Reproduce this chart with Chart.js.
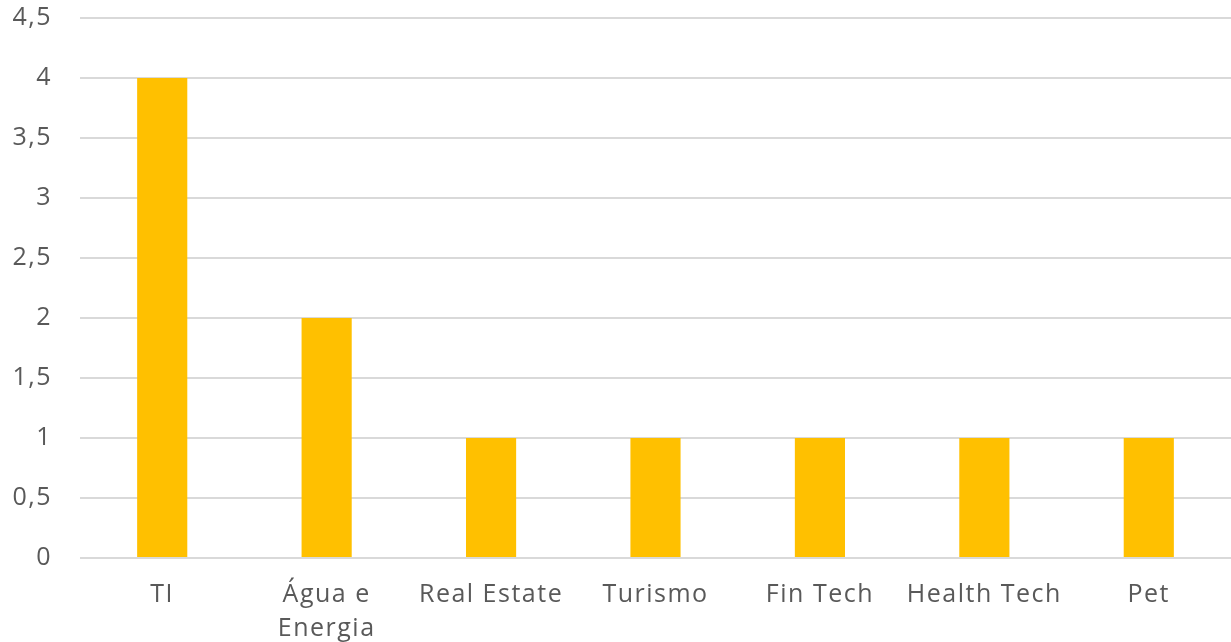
<!DOCTYPE html>
<html>
<head>
<meta charset="utf-8">
<script src="https://cdn.jsdelivr.net/npm/chart.js@4/dist/chart.umd.min.js"></script>
<style>
  html, body { margin: 0; padding: 0; background: #ffffff; }
  #wrap { width: 1231px; height: 642px; position: relative; }
</style>
</head>
<body>
<div id="wrap"><canvas id="chart"></canvas></div>
<script>
// Setores e quantidade de empresas
const categories = [['TI'], ['Água e', 'Energia'], ['Real Estate'], ['Turismo'], ['Fin Tech'], ['Health Tech'], ['Pet']];
const values = [4, 2, 1, 1, 1, 1, 1];
const yTicks = [0, 0.5, 1, 1.5, 2, 2.5, 3, 3.5, 4, 4.5];

const labelFont = { family: '"Open Sans", "Noto Sans", sans-serif', size: 25 };
const textColor = '#595959';

// Slightly tracked-out lettering for all canvas text
const tracking = {
  id: 'tracking',
  beforeLayout(chart) { chart.ctx.letterSpacing = '1.5px'; },
  beforeDraw(chart) { chart.ctx.letterSpacing = '1.5px'; }
};

new Chart(document.getElementById('chart'), {
  type: 'bar',
  plugins: [tracking],
  data: {
    labels: categories,
    datasets: [{
      data: values,
      backgroundColor: '#FFC000',
      borderWidth: 0,
      barPercentage: 0.305,
      categoryPercentage: 1
    }]
  },
  options: {
    responsive: true,
    maintainAspectRatio: false,
    animation: false,
    layout: { padding: { top: 18, right: 0, left: 0, bottom: 0 } },
    plugins: { legend: { display: false }, tooltip: { enabled: false } },
    scales: {
      x: {
        grid: { display: false },
        border: { display: false },
        ticks: { color: textColor, font: { ...labelFont, lineHeight: 1.35 }, padding: 12, maxRotation: 0, autoSkip: false },
        afterFit: (s) => { s.height = 84; s.paddingLeft = 0; s.paddingRight = 0; }
      },
      y: {
        min: 0,
        max: 4.5,
        afterBuildTicks: (s) => { s.ticks = yTicks.map(v => ({ value: v })); },
        grid: { color: '#d9d9d9', lineWidth: 2, drawTicks: false },
        border: { display: false },
        ticks: {
          color: textColor,
          font: labelFont,
          padding: 28,
          callback: (v) => String(v).replace('.', ',')
        },
        afterFit: (s) => { s.width = 80; s.paddingTop = 0; s.paddingBottom = 0; }
      }
    }
  }
});
</script>
</body>
</html>
